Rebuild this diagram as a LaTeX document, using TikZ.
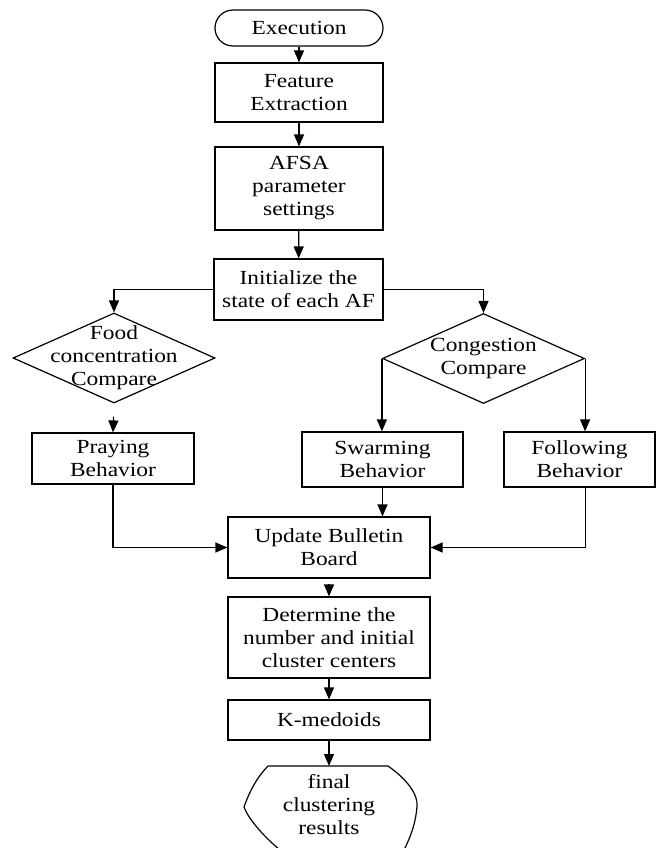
\documentclass[tikz,border=0pt]{standalone}
\usepackage{fontspec}
\setmainfont{Liberation Serif}[FakeStretch=1.17]
\usetikzlibrary{arrows.meta, shapes.geometric}

\tikzset{
  procbox/.style={draw, line width=0.6pt, align=center, inner sep=2pt,
    font=\fontsize{10}{11.5}\selectfont},
  decide/.style={procbox, diamond, shape aspect=2.24, inner sep=-6pt,
    minimum width=101pt, minimum height=45pt},
  flow/.style={-{Triangle[length=6pt, width=5pt]}, line width=0.6pt},
  link/.style={line width=0.6pt},
}

\begin{document}
\begin{tikzpicture}[x=0.5pt, y=-0.5pt]
  \useasboundingbox (0,0) rectangle (657,848);
  % main column
  \node[procbox, rounded corners=9pt, minimum width=84pt, minimum height=18pt]
    (exec) at (299, 28) {Execution};
  \node[procbox, minimum width=84pt, minimum height=29.5pt]
    (feat) at (299, 92.5) {Feature\\Extraction};
  \node[procbox, minimum width=84pt, minimum height=41.5pt]
    (afsa) at (299, 188.5) {AFSA\\parameter\\settings};
  \node[procbox, minimum width=84.5pt, minimum height=30.5pt]
    (init) at (298.5, 289.5) {Initialize the\\state of each AF};
  % decisions
  \node[decide] (food) at (114, 358) {Food\\concentration\\Compare};
  \node[decide] (cong) at (483.5, 358.5) {Congestion\\Compare};
  % behaviours
  \node[procbox, minimum width=81pt, minimum height=25.5pt]
    (pray) at (113, 458.5) {Praying\\Behavior};
  \node[procbox, minimum width=80.5pt, minimum height=27.5pt]
    (swarm) at (382.5, 459.5) {Swarming\\Behavior};
  \node[procbox, minimum width=75.5pt, minimum height=27.5pt]
    (follow) at (579.5, 459.5) {Following\\Behavior};
  % lower column
  \node[procbox, minimum width=101pt, minimum height=30.5pt]
    (update) at (329, 547.5) {Update Bulletin\\Board};
  \node[procbox, minimum width=101pt, minimum height=40.5pt]
    (determ) at (329, 637.5) {Determine the\\number and initial\\cluster centers};
  \node[procbox, minimum width=101pt, minimum height=20pt]
    (kmed) at (329, 720) {K-medoids};
  \node[procbox, draw=none] (final) at (329, 805) {final\\clustering\\results};
  \coordinate (fintop) at (329, 766);
  % terminal shape of the result
  \draw[link] (268, 766) -- (388, 766)
    .. controls (408, 780) and (418, 795) .. (417, 806)
    .. controls (416, 822) and (411, 836) .. (404, 850)
    -- (400, 870) -- (290, 870) -- (280, 850)
    .. controls (262, 835) and (248, 818) .. (244, 807)
    .. controls (250, 790) and (258, 776) .. (268, 766);
  % connectors
  \draw[flow] (exec) -- (feat);
  \draw[flow] (feat) -- (afsa);
  \draw[flow] (afsa) -- (init);
  \draw[flow] (init.west) -| (food.north);
  \draw[flow] (init.east) -| (cong.north);
  \draw[flow, shorten <=6.5pt] (food.south) -- (pray.north);
  \draw[flow] (cong.west) -- (cong.west |- swarm.north);
  \draw[flow] (cong.east) -- (cong.east |- follow.north);
  \draw[flow] (swarm.south) -- (swarm.south |- update.north);
  \draw[flow] (pray.south) |- (update.west);
  \draw[flow] (cong.east |- follow.south) |- (update.east);
  \draw[flow, shorten <=2.5pt] (update) -- (determ);
  \draw[flow] (determ) -- (kmed);
  \draw[flow] (kmed) -- (fintop);
\end{tikzpicture}
\end{document}
